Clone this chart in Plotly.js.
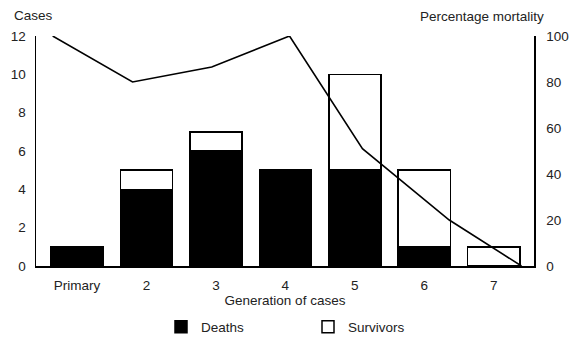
<!DOCTYPE html>
<html>
<head>
<meta charset="utf-8">
<script src="https://cdn.plot.ly/plotly-3.0.1.min.js"></script>
<style>html,body{margin:0;padding:0;background:#fff;}#chart{width:578px;height:340px;}</style>
</head>
<body>
<div id="chart"></div>
<script>
const categories = ['Primary', '2', '3', '4', '5', '6', '7'];
const deaths = [1, 4, 6, 5, 5, 1, 0];
const survivors = [0, 1, 1, 0, 5, 4, 1];
const mortalityPct = [100, 80, 86.5, 100, 51, 20, 0];
// horizontal positions of the mortality line's vertices, in category units (as drawn in the source)
const mortalityX = [-0.35, 0.8, 1.94, 3.06, 4.11, 5.36, 6.4];
const leftTicks = [0, 2, 4, 6, 8, 10, 12];
const rightTicks = [0, 20, 40, 60, 80, 100];

const idx = categories.map((c, i) => i);
const font = {family: 'Liberation Sans, Arial, sans-serif', size: 13.5, color: '#222'};

const traces = [
  {type: 'bar', name: 'Deaths', x: idx, y: deaths, width: 0.75,
   marker: {color: '#000', line: {color: '#000', width: 1.5}}},
  {type: 'bar', name: 'Survivors', x: idx, y: survivors, width: 0.75,
   marker: {color: '#fff', line: {color: '#000', width: 1.5}}},
  {type: 'scatter', mode: 'lines', x: mortalityX, y: mortalityPct, yaxis: 'y2',
   line: {color: '#000', width: 1.6}, showlegend: false, hoverinfo: 'skip'}
];

const layout = {
  width: 578, height: 340,
  margin: {l: 36, r: 44, t: 36, b: 74, pad: 0, autoexpand: false},
  paper_bgcolor: '#fff', plot_bgcolor: '#fff',
  font: font,
  barmode: 'stack',
  showlegend: true,
  legend: {orientation: 'h', xref: 'container', yref: 'container',
           x: 161 / 578, xanchor: 'left', y: 13 / 340, yanchor: 'middle',
           entrywidth: 102, entrywidthmode: 'pixels', font: font, traceorder: 'normal'},
  xaxis: {range: [-0.59, 6.58], tickmode: 'array', tickvals: idx, ticktext: categories,
          showline: true, linecolor: '#000', linewidth: 1.5, showgrid: false, zeroline: false,
          ticks: '', ticklabelstandoff: 6, automargin: false,
          title: {text: 'Generation of cases', font: font, standoff: 4}},
  yaxis: {range: [0, 12], tickmode: 'array', tickvals: leftTicks, automargin: false,
          showline: true, linecolor: '#000', linewidth: 1.5, showgrid: false, zeroline: false,
          ticks: '', ticklabelstandoff: 6},
  yaxis2: {range: [0, 100], overlaying: 'y', side: 'right', tickmode: 'array', tickvals: rightTicks,
           showline: true, linecolor: '#000', linewidth: 1.5, showgrid: false, zeroline: false,
           ticks: '', ticklabelstandoff: 8, automargin: false},
  annotations: [
    {text: 'Cases', xref: 'paper', yref: 'paper', x: -0.048, y: 1.09, xanchor: 'left', yanchor: 'middle',
     showarrow: false, font: font},
    {text: 'Percentage mortality', xref: 'paper', yref: 'paper', x: 1.024, y: 1.085, xanchor: 'right', yanchor: 'middle',
     showarrow: false, font: font}
  ]
};

Plotly.newPlot('chart', traces, layout, {staticPlot: true, displayModeBar: false});
</script>
</body>
</html>
